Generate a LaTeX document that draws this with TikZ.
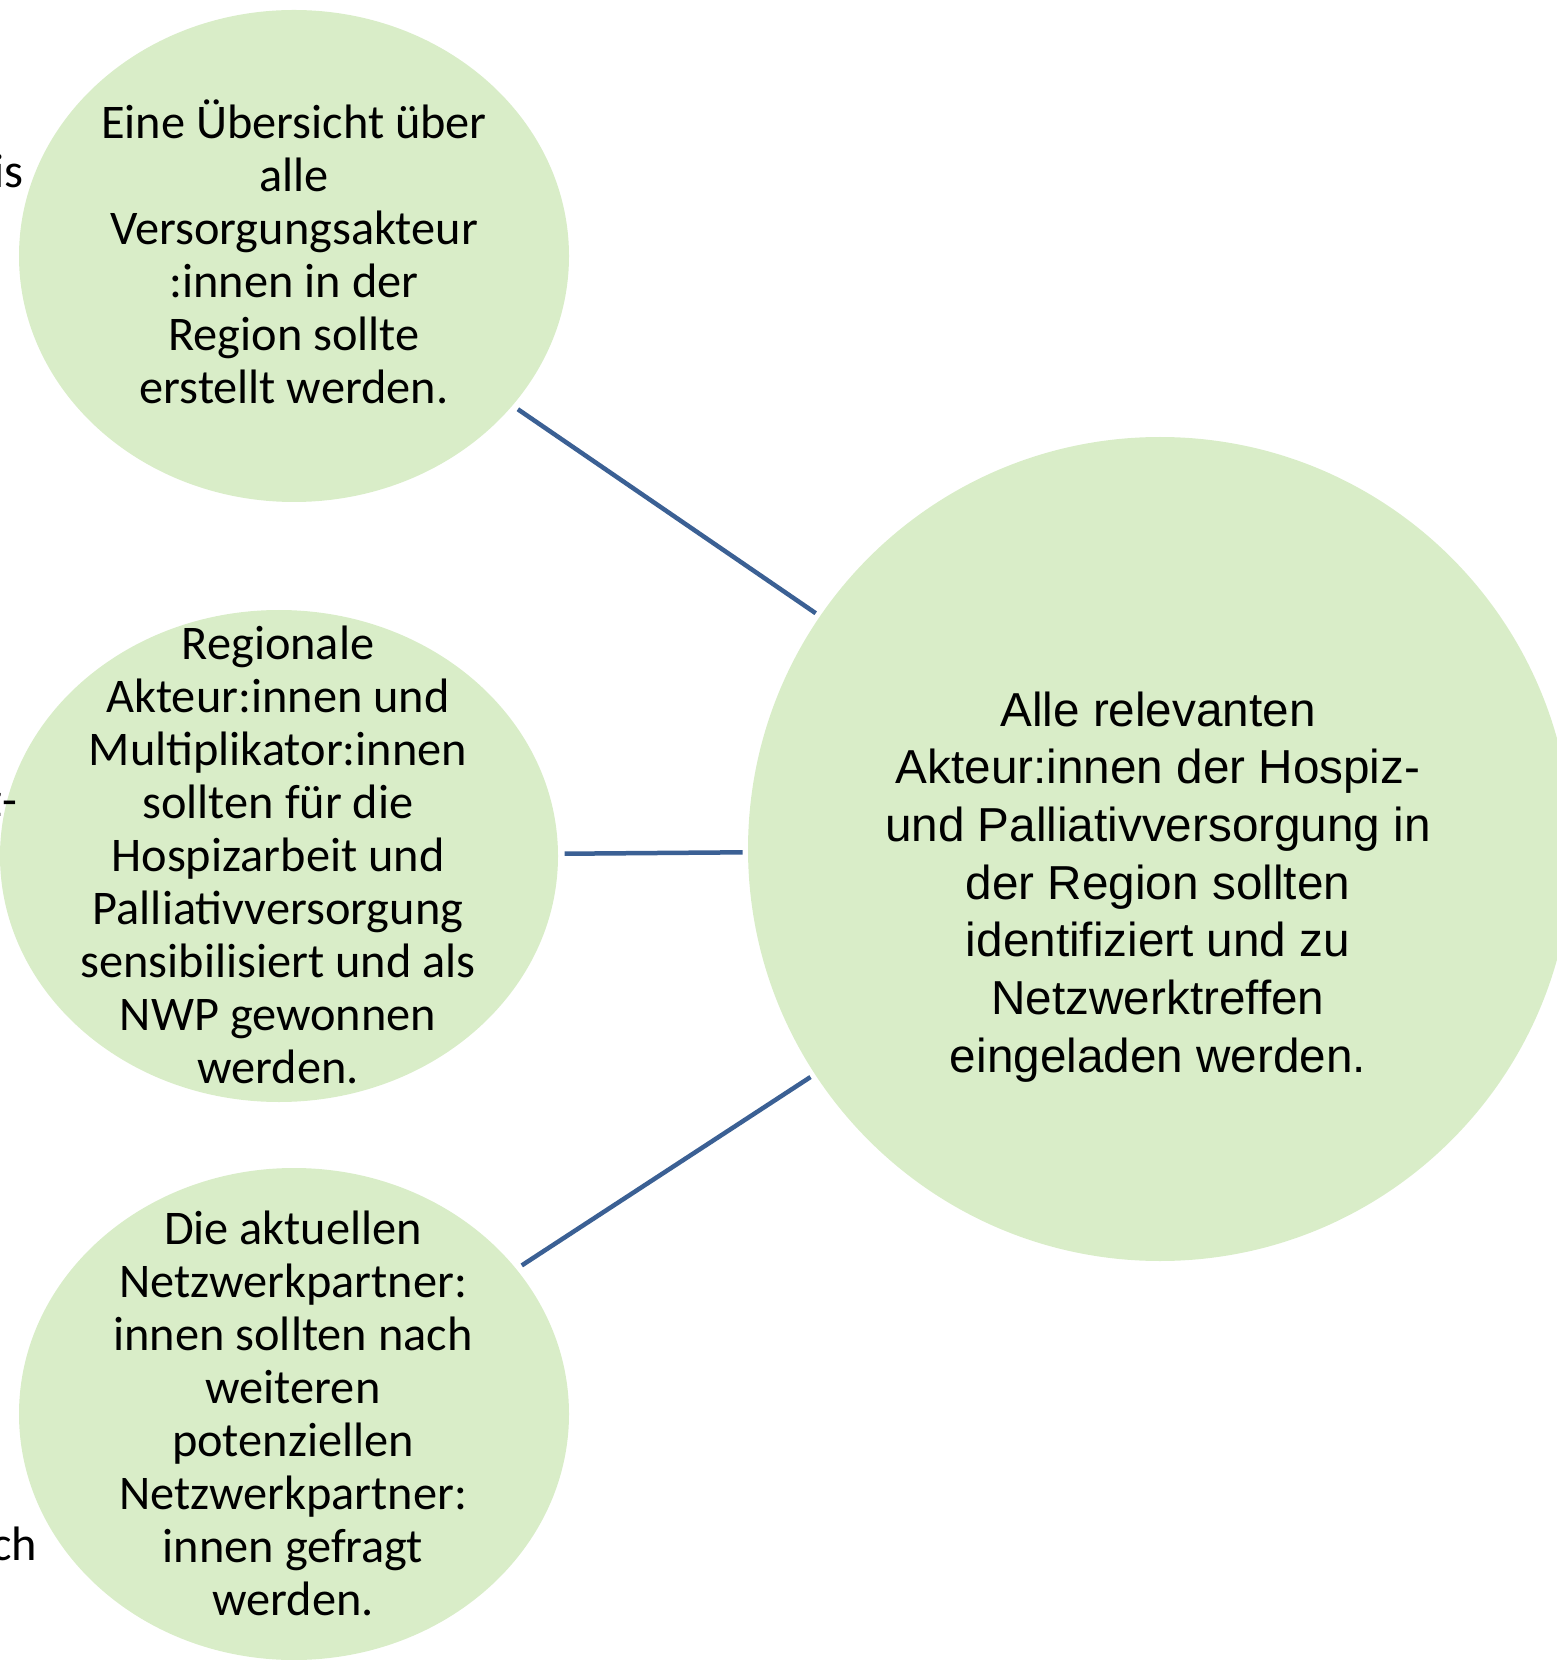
\documentclass[tikz,border=0pt]{standalone}
\usepackage{fontspec}
\setmainfont{Carlito}
\newfontfamily\arialfont{Liberation Sans}
\usetikzlibrary{shapes.geometric}
\definecolor{bubblegreen}{RGB}{217,237,200}
\definecolor{linkblue}{RGB}{59,96,148}

\begin{document}
\begin{tikzpicture}[x=0.3pt,y=-0.3pt,
  bubble/.style={ellipse,fill=bubblegreen,inner sep=0pt,outer sep=0pt,
    minimum width=165pt,minimum height=147.6pt},
  bubbletext/.style={align=center,inner sep=0pt,font=\fontsize{14.5}{15.9}\selectfont},
  goaltext/.style={align=center,inner sep=0pt,font=\arialfont\fontsize{14.3}{17.3}\selectfont},
  link/.style={draw=linkblue,line width=1.35pt,shorten <=2pt,shorten >=1.6pt}]
  \useasboundingbox (0,0) rectangle (1556,1660);
  % bubbles
  \node[bubble] (overview) at (294,256) {};
  \node[bubble,minimum width=167.4pt] (regional) at (279,856) {};
  \node[bubble] (partners) at (294,1414) {};
  \node[circle,fill=bubblegreen,inner sep=0pt,outer sep=0pt,minimum size=247.2pt] (goal) at (1160,849) {};
  % texts
  \node[bubbletext] (overviewtext) at (294,252) {Eine Übersicht über\\alle\\Versorgungsakteur\\:innen in der\\Region sollte\\erstellt werden.};
  \node[bubbletext] (regionaltext) at (278,855) {Regionale\\Akteur:innen und\\Multiplikator:innen\\sollten für die\\Hospizarbeit und\\Palliativversorgung\\sensibilisiert und als\\NWP gewonnen\\werden.};
  \node[bubbletext] (partnerstext) at (293,1413) {Die aktuellen\\Netzwerkpartner:\\innen sollten nach\\weiteren\\potenziellen\\Netzwerkpartner:\\innen gefragt\\werden.};
  \node[goaltext] (goaltext) at (1158,887) {Alle relevanten\\Akteur:innen der Hospiz-\\und Palliativversorgung in\\der Region sollten\\identifiziert und zu\\Netzwerktreffen\\eingeladen werden.};
  % cut-off text at the left edge
  \node[bubbletext,anchor=base east] (fragis) at (24,188) {is};
  \node[bubbletext,anchor=base east] (fraghyphen) at (18,816) {z-};
  \node[bubbletext,anchor=base east] (fragch) at (38,1560) {ch};
  % links
  \path (overview) edge[link] (goal);
  \path (regional) edge[link] (goal);
  \path (partners) edge[link] (goal);
\end{tikzpicture}
\end{document}
